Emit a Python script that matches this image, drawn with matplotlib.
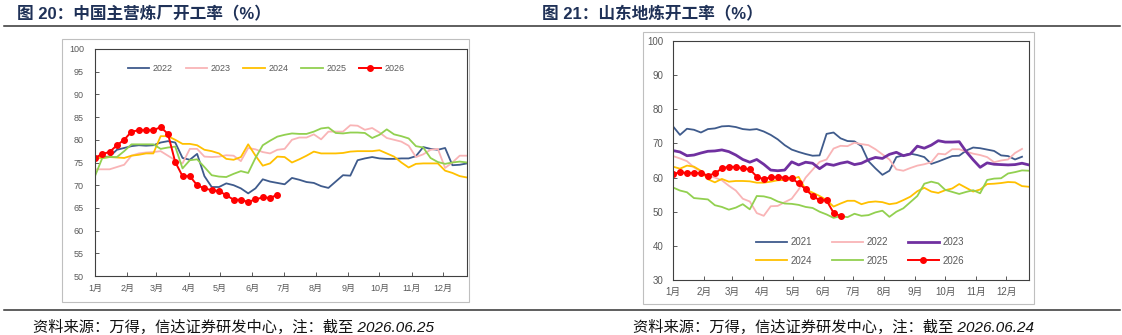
import matplotlib
matplotlib.use("Agg")
import matplotlib.pyplot as plt
from matplotlib.patches import Rectangle
from matplotlib.lines import Line2D

plt.rcParams['font.family'] = ['Liberation Sans', 'Noto Sans CJK SC', 'DejaVu Sans']

W, H = 1122, 335

# 周度数据: 第 i 个点落在一年中的第 7*i 天
MONTH_DAYS = [0, 31, 59, 90, 120, 151, 181, 212, 243, 273, 304, 334]
MONTH_LABELS = [f"{m}月" for m in range(1, 13)]

# 图20 中国主营炼厂开工率
main_2022 = [76.0, 76.2, 76.3, 77.8, 78.2, 78.6, 78.8, 78.7, 78.8, 79.4, 79.7, 79.4, 76.0,
             75.6, 76.9, 72.0, 69.6, 69.6, 70.4, 70.0, 69.3, 68.2, 69.3, 71.3, 70.8, 70.5,
             70.2, 71.6, 71.2, 70.7, 70.5, 69.8, 69.4, 70.8, 72.2, 72.1, 75.5, 75.9, 76.2,
             75.9, 75.8, 75.8, 75.9, 75.9, 76.4, 78.4, 78.0, 77.8, 78.2, 74.4, 74.5, 74.8]
main_2023 = [73.5, 73.5, 73.5, 74.0, 74.5, 76.5, 77.0, 77.2, 77.3, 77.5, 76.5, 75.5, 74.8,
             78.0, 78.0, 76.3, 76.2, 76.3, 76.6, 76.5, 75.3, 78.2, 77.9, 77.3, 77.0, 77.8,
             78.0, 80.0, 80.5, 80.5, 81.2, 80.1, 81.8, 81.8, 81.8, 83.2, 83.1, 82.2, 82.6,
             81.6, 80.4, 80.0, 79.6, 78.7, 76.2, 76.8, 77.8, 78.0, 73.8, 75.0, 76.5, 76.5]
main_2024 = [76.0, 76.0, 76.2, 76.1, 76.0, 76.5, 76.7, 77.0, 77.0, 80.8, 80.8, 80.0, 79.1,
             79.1, 78.8, 77.8, 77.5, 77.0, 75.8, 75.6, 76.2, 79.0, 76.5, 74.3, 74.8, 76.3,
             76.2, 75.0, 75.7, 76.5, 77.4, 77.0, 77.0, 77.0, 77.1, 77.4, 77.5, 77.5, 77.5,
             77.7, 77.0, 76.3, 75.0, 73.9, 74.7, 74.8, 74.8, 74.8, 73.2, 72.7, 72.0, 71.7]
main_2025 = [72.0, 76.0, 76.2, 76.2, 77.5, 79.0, 79.0, 79.0, 79.0, 78.0, 78.3, 78.5, 73.7,
             75.5, 75.7, 74.0, 72.2, 71.9, 71.8, 72.5, 73.1, 72.7, 76.0, 78.8, 79.8, 80.7,
             81.1, 81.4, 81.3, 81.3, 81.8, 82.5, 82.7, 81.5, 81.4, 81.6, 81.6, 81.5, 80.4,
             81.1, 82.3, 81.2, 80.8, 80.3, 78.6, 78.3, 76.0, 75.1, 74.7, 75.0, 75.2, 75.0]
main_2026 = [76.0, 76.9, 77.3, 78.8, 80.0, 81.8, 82.1, 82.1, 82.1, 82.8, 81.3, 75.1, 72.0,
             72.0, 70.0, 69.3, 68.9, 68.7, 67.8, 66.8, 66.8, 66.3, 66.9, 67.3, 67.2, 67.9]

# 图21 山东地炼开工率
sd_2021 = [75.0, 72.5, 74.3, 74.0, 73.2, 74.2, 74.4, 75.0, 75.1, 74.8, 74.2, 74.0, 74.2,
           73.5, 72.5, 71.2, 69.5, 68.2, 67.5, 66.9, 66.4, 66.5, 72.8, 73.2, 71.5, 70.7,
           70.6, 69.2, 64.8, 62.7, 60.8, 62.0, 66.0, 66.5, 67.0, 66.6, 66.0, 64.0, 64.7,
           65.5, 66.3, 66.4, 67.9, 68.8, 68.6, 68.2, 67.8, 66.5, 66.3, 65.3, 66.1]
sd_2022 = [66.3, 65.6, 64.8, 63.0, 61.7, 60.5, 60.0, 59.2, 57.6, 56.2, 53.8, 53.0, 49.6,
           48.8, 51.6, 51.7, 52.8, 53.8, 56.5, 60.0, 62.3, 64.6, 65.3, 68.5, 69.3, 69.2,
           70.2, 69.8, 69.5, 68.3, 66.8, 65.3, 62.4, 62.0, 62.8, 63.5, 63.9, 64.5, 67.0,
           66.8, 68.3, 68.3, 67.6, 67.0, 66.6, 66.0, 64.5, 65.0, 65.3, 67.2, 68.4]
sd_2023 = [67.9, 67.5, 66.4, 66.6, 67.2, 67.7, 67.8, 68.1, 67.6, 66.6, 65.3, 64.5, 65.3,
           63.9, 62.2, 62.0, 62.2, 64.6, 63.7, 64.5, 64.2, 62.6, 64.0, 63.6, 64.2, 64.6,
           63.8, 64.2, 65.2, 65.9, 65.6, 66.8, 67.4, 66.4, 66.9, 69.2, 68.6, 69.5, 70.8,
           70.4, 70.4, 70.5, 67.6, 65.2, 63.0, 64.3, 63.9, 63.8, 63.7, 63.8, 64.2, 63.7]
sd_2024 = [63.2, 62.6, 63.5, 63.2, 62.0, 59.5, 58.6, 59.6, 58.8, 59.0, 59.0, 58.9, 58.5,
           58.5, 58.8, 59.2, 59.3, 59.5, 60.2, 56.5, 55.6, 54.6, 53.4, 51.5, 52.4, 53.2,
           53.2, 52.2, 52.8, 53.0, 52.8, 52.2, 52.5, 53.4, 54.4, 56.0, 57.0, 55.9, 55.5,
           56.3, 56.8, 58.1, 57.0, 55.9, 56.5, 58.1, 58.2, 58.4, 58.7, 58.6, 57.5, 57.3]
sd_2025 = [57.1, 56.2, 55.7, 54.0, 53.8, 53.6, 51.9, 51.4, 50.6, 51.2, 52.2, 50.7, 54.6,
           54.5, 54.0, 53.0, 52.4, 52.3, 52.0, 51.4, 51.1, 50.0, 49.2, 48.2, 48.7, 48.4,
           49.4, 48.8, 49.0, 49.8, 50.3, 48.5, 50.0, 51.0, 52.8, 54.6, 58.2, 58.8, 58.3,
           56.4, 55.8, 55.2, 55.8, 56.3, 55.4, 59.3, 59.7, 59.8, 61.2, 61.6, 62.1, 62.0]
sd_2026 = [61.0, 61.6, 61.3, 61.4, 61.2, 60.6, 61.2, 62.7, 63.2, 63.1, 62.7, 62.4, 60.3,
           59.5, 60.1, 60.1, 60.0, 59.8, 58.3, 56.6, 54.6, 53.4, 53.3, 49.7, 48.7]

C_NAVY = "#3f5b8c"
C_PINK = "#f9b4b6"
C_PURPLE = "#7030a0"
C_YELLOW = "#ffc000"
C_GREEN = "#92d050"
C_RED = "#ff0000"
TICK_C = "#595959"


def days(vals):
    return [7 * i for i in range(len(vals))]


def fx(x):
    return x / W


def fy(y):
    return 1 - y / H


def style_axes(ax, ylim, ystep, fs, xpad, ypad):
    ax.set_xlim(0, 357)
    ax.set_ylim(*ylim)
    ax.set_yticks(range(ylim[0], ylim[1] + 1, ystep))
    ax.set_xticks(MONTH_DAYS)
    ax.set_xticklabels(MONTH_LABELS)
    ax.tick_params(direction="in", length=3, width=0.6, colors="#404040",
                   labelcolor=TICK_C, labelsize=fs)
    ax.tick_params(axis="x", pad=xpad)
    ax.tick_params(axis="y", pad=ypad)
    for s in ax.spines.values():
        s.set_color("#404040")
        s.set_linewidth(0.8)


fig = plt.figure(figsize=(W / 100, H / 100), dpi=100)

# 外框
for (x0, y0, x1, y1) in [(62, 39, 469, 302), (643, 32, 1034, 304)]:
    fig.patches.append(Rectangle((fx(x0), fy(y1)), fx(x1 - x0), (y1 - y0) / H,
                                 transform=fig.transFigure, fill=False,
                                 edgecolor="#bfbfbf", lw=0.8))

# 标题与分隔线
title_kw = dict(fontsize=12, weight="bold", color="#1f3157", va="center", ha="left")
fig.text(fx(17), fy(14), "图 20：中国主营炼厂开工率（%）", **title_kw)
fig.text(fx(542), fy(14), "图 21：山东地炼开工率（%）", **title_kw)
fig.add_artist(Line2D([fx(4), fx(1120)], [fy(25.5), fy(25.5)], color="#333333", lw=1.1,
                      transform=fig.transFigure))
fig.add_artist(Line2D([fx(4), fx(1120)], [fy(310), fy(310)], color="#333333", lw=1.1,
                      transform=fig.transFigure))

foot_kw = dict(fontsize=11, style="italic", color="#111111", va="center", ha="left")
fig.text(fx(33), fy(327), "资料来源：万得，信达证券研发中心，注：截至 2026.06.25", **foot_kw)
fig.text(fx(633), fy(327), "资料来源：万得，信达证券研发中心，注：截至 2026.06.24", **foot_kw)

# 左图
ax1 = fig.add_axes([fx(95), fy(276), (467 - 95) / W, (276 - 49) / H])
ax1.plot(days(main_2022), main_2022, color=C_NAVY, lw=1.3, label="2022")
ax1.plot(days(main_2023), main_2023, color=C_PINK, lw=1.3, label="2023")
ax1.plot(days(main_2024), main_2024, color=C_YELLOW, lw=1.3, label="2024")
ax1.plot(days(main_2025), main_2025, color=C_GREEN, lw=1.3, label="2025")
ax1.plot(days(main_2026), main_2026, color=C_RED, lw=1.4, marker="o", ms=4, label="2026")
style_axes(ax1, (50, 100), 5, 6.5, 6, 8)
ax1.legend(loc="center", bbox_to_anchor=(0.46, 0.915), ncol=5, frameon=False,
           fontsize=6.5, handlelength=2.4, handletextpad=0.4, columnspacing=1.4,
           labelcolor=TICK_C)

# 右图
ax2 = fig.add_axes([fx(673), fy(280), (1029 - 673) / W, (280 - 41) / H])
h21, = ax2.plot(days(sd_2021), sd_2021, color=C_NAVY, lw=1.3, label="2021")
h22, = ax2.plot(days(sd_2022), sd_2022, color=C_PINK, lw=1.3, label="2022")
h23, = ax2.plot(days(sd_2023), sd_2023, color=C_PURPLE, lw=2.0, label="2023")
h24, = ax2.plot(days(sd_2024), sd_2024, color=C_YELLOW, lw=1.3, label="2024")
h25, = ax2.plot(days(sd_2025), sd_2025, color=C_GREEN, lw=1.3, label="2025")
h26, = ax2.plot(days(sd_2026), sd_2026, color=C_RED, lw=1.4, marker="o", ms=4, label="2026")
style_axes(ax2, (30, 100), 10, 7, 5, 7)
hs = [h21, h24, h22, h25, h23, h26]
ax2.legend(hs, [h.get_label() for h in hs], loc="center", bbox_to_anchor=(0.525, 0.12),
           ncol=3, frameon=False, fontsize=7, handlelength=3.2, handletextpad=0.4,
           columnspacing=2.0, labelspacing=0.9, labelcolor=TICK_C)

fig.savefig("out.png", dpi=100)
